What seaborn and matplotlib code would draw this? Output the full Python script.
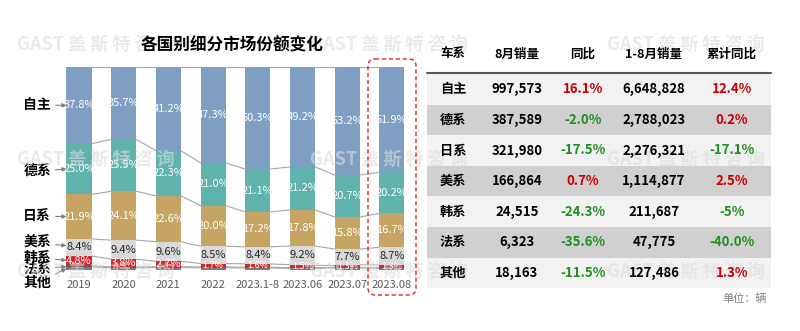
import matplotlib
matplotlib.use("Agg")
import matplotlib.pyplot as plt
from matplotlib.patches import FancyBboxPatch, Rectangle
import seaborn as sns
import pandas as pd

# ---------------- data ----------------
categories = ['2019', '2020', '2021', '2022', '2023.1-8', '2023.06', '2023.07', '2023.08']
series_names = ['自主', '德系', '日系', '美系', '韩系', '法系', '其他']
share_zizhu = [37.8, 35.7, 41.2, 47.3, 50.3, 49.2, 53.2, 51.9]
share_dexi = [25.0, 25.5, 22.3, 21.0, 21.1, 21.2, 20.7, 20.2]
share_rixi = [21.9, 24.1, 22.6, 20.0, 17.2, 17.8, 15.8, 16.7]
share_meixi = [8.4, 9.4, 9.6, 8.5, 8.4, 9.2, 7.7, 8.7]
share_hanxi = [4.8, 3.8, 2.7, 1.7, 1.6, 1.5, 1.3, 1.3]
share_faxi = [0.6, 0.4, 0.4, 0.4, 0.4, 0.3, 0.3, 0.3]
share_qita = [1.5, 1.1, 1.2, 1.1, 1.0, 0.8, 1.0, 0.9]

table_header = ['车系', '8月销量', '同比', '1-8月销量', '累计同比']
aug_sales = [997573, 387589, 321980, 166864, 24515, 6323, 18163]
aug_yoy = ['16.1%', '-2.0%', '-17.5%', '0.7%', '-24.3%', '-35.6%', '-11.5%']
ytd_sales = [6648828, 2788023, 2276321, 1114877, 211687, 47775, 127486]
ytd_yoy = ['12.4%', '0.2%', '-17.1%', '2.5%', '-5%', '-40.0%', '1.3%']

shares = [share_zizhu, share_dexi, share_rixi, share_meixi, share_hanxi, share_faxi, share_qita]
colors = ['#7f9fc2', '#60b2ad', '#c5a464', '#d9d9d9', '#d8272c', '#595959', '#7a7a7a']
label_colors = ['white', 'white', 'white', '#262626', 'white', None, None]

# ---------------- style ----------------
sns.set_theme(style='white')
plt.rcParams['font.family'] = ['Noto Sans CJK SC', 'DejaVu Sans']
plt.rcParams['axes.unicode_minus'] = False

W, H = 800, 331
fig = plt.figure(figsize=(W / 100, H / 100), dpi=100)
fig.patch.set_facecolor('white')

# bar axes: bar centers at px 79 + 44.71*i, y 0..100 -> px 270..67
step = 44.71
left_px = 79 - step / 2
ax = fig.add_axes([left_px / W, (H - 270) / H, 8 * step / W, 203 / H])

df = pd.DataFrame(dict(zip(series_names, shares)), index=categories)
# cumulative from bottom
cum_tops = {}
running = [0.0] * len(categories)
for name in reversed(series_names):
    running = [r + v for r, v in zip(running, df[name].tolist())]
    cum_tops[name] = running[:]

bw = 0.56
# draw cumulative bars, tallest first
for name, col in zip(series_names, colors):
    d = pd.DataFrame({'cat': categories, 'val': cum_tops[name]})
    sns.barplot(data=d, x='cat', y='val', order=categories, color=col,
                saturation=1, width=bw, ax=ax, linewidth=0, zorder=2)

ax.set_xlim(-0.5, 7.5)
ax.set_ylim(0, 100)
for s in ax.spines.values():
    s.set_visible(False)
ax.set_yticks([])
ax.set_xlabel('')
ax.set_ylabel('')
ax.tick_params(axis='x', length=0, pad=7, labelsize=8, labelcolor='#595959')
ax.patch.set_alpha(0)

# connector lines
for name in series_names:
    tops = cum_tops[name]
    for i in range(len(categories) - 1):
        ax.plot([i + bw / 2, i + 1 - bw / 2], [tops[i], tops[i + 1]],
                color='#a6a6a6', lw=0.8, zorder=1)

# value labels
for k, name in enumerate(series_names):
    lc = label_colors[k]
    if lc is None:
        continue
    vals = df[name].tolist()
    tops = cum_tops[name]
    for i, v in enumerate(vals):
        fs = 8 if v >= 2 else 6.5
        ax.text(i, tops[i] - v / 2, f'{v:.1f}%', ha='center', va='center',
                fontsize=fs, color=lc, zorder=4)

# left series labels with arrows
def py2d(py):
    return (270 - py) / 2.03

label_pos = [  # (text_y_px, target_y_data)
    (105, 81.1), (171, 49.7), (216, 26.3), (243, 12.0),
    (258, 4.8), (269, 1.7), (283, 0.7)]
for name, (ty, tgt) in zip(series_names, label_pos):
    ax.annotate(name, xy=(-bw / 2, tgt), xytext=((51 - 79) / step, py2d(ty)),
                textcoords='data', xycoords='data', ha='right', va='center',
                fontsize=10, fontweight='bold', color='black', annotation_clip=False,
                arrowprops=dict(arrowstyle='-|>', color='#7f7f7f', lw=0.8,
                                mutation_scale=6, shrinkA=1, shrinkB=0))

# ---------------- overlay (table, title, watermark) ----------------
ov = fig.add_axes([0, 0, 1, 1], zorder=5)
ov.set_xlim(0, W)
ov.set_ylim(H, 0)
ov.axis('off')
ov.patch.set_alpha(0)

ov.text(232, 45, '各国别细分市场份额变化', ha='center', va='center',
        fontsize=12, fontweight='bold', color='black', zorder=6)

# red dashed highlight box
ov.add_patch(FancyBboxPatch((368, 59), 48, 236,
                            boxstyle='round,pad=0,rounding_size=7',
                            fill=False, edgecolor='#e02525', lw=1,
                            linestyle=(0, (3, 2)), zorder=6))

# table
col_x = [453, 517, 583, 654, 732]
row_top, row_h = 74, 30.6
tbl_l, tbl_r = 427, 771
for c, t in enumerate(table_header):
    ov.text(col_x[c], 54, t, ha='center', va='center', fontsize=9,
            fontweight='bold', color='black', zorder=6)
for r in range(len(series_names)):
    y0 = row_top + r * row_h
    ov.add_patch(Rectangle((tbl_l, y0), tbl_r - tbl_l, row_h,
                           facecolor='#f2f2f2' if r % 2 == 0 else '#d0d0d0',
                           edgecolor='none', zorder=1))
    yc = y0 + row_h / 2
    ov.text(col_x[0], yc, series_names[r], ha='center', va='center', fontsize=9.5,
            fontweight='bold', color='black', zorder=6)
    ov.text(col_x[1], yc, f'{aug_sales[r]:,}', ha='center', va='center', fontsize=9.5,
            fontweight='bold', color='black', zorder=6)
    ov.text(col_x[2], yc, aug_yoy[r], ha='center', va='center', fontsize=9.5,
            fontweight='bold', color='#1e8f1e' if aug_yoy[r].startswith('-') else '#c80000',
            zorder=6)
    ov.text(col_x[3], yc, f'{ytd_sales[r]:,}', ha='center', va='center', fontsize=9.5,
            fontweight='bold', color='black', zorder=6)
    ov.text(col_x[4], yc, ytd_yoy[r], ha='center', va='center', fontsize=9.5,
            fontweight='bold', color='#1e8f1e' if ytd_yoy[r].startswith('-') else '#c80000',
            zorder=6)
ov.plot([tbl_l, tbl_r], [73, 73], color='#595959', lw=1.5, zorder=6)

ov.text(745, 299, '单位：辆', ha='center', va='center', fontsize=8,
        color='#808080', zorder=6)

# watermark
for wy in [45, 160, 272]:
    for wx in [17, 310, 607]:
        ov.text(wx, wy, 'GAST 盖 斯 特 咨 询', ha='left', va='center', fontsize=13,
                fontweight='bold', color='#dcdcdc', alpha=0.6, zorder=3)

fig.savefig('out.png', dpi=100, facecolor='white')
